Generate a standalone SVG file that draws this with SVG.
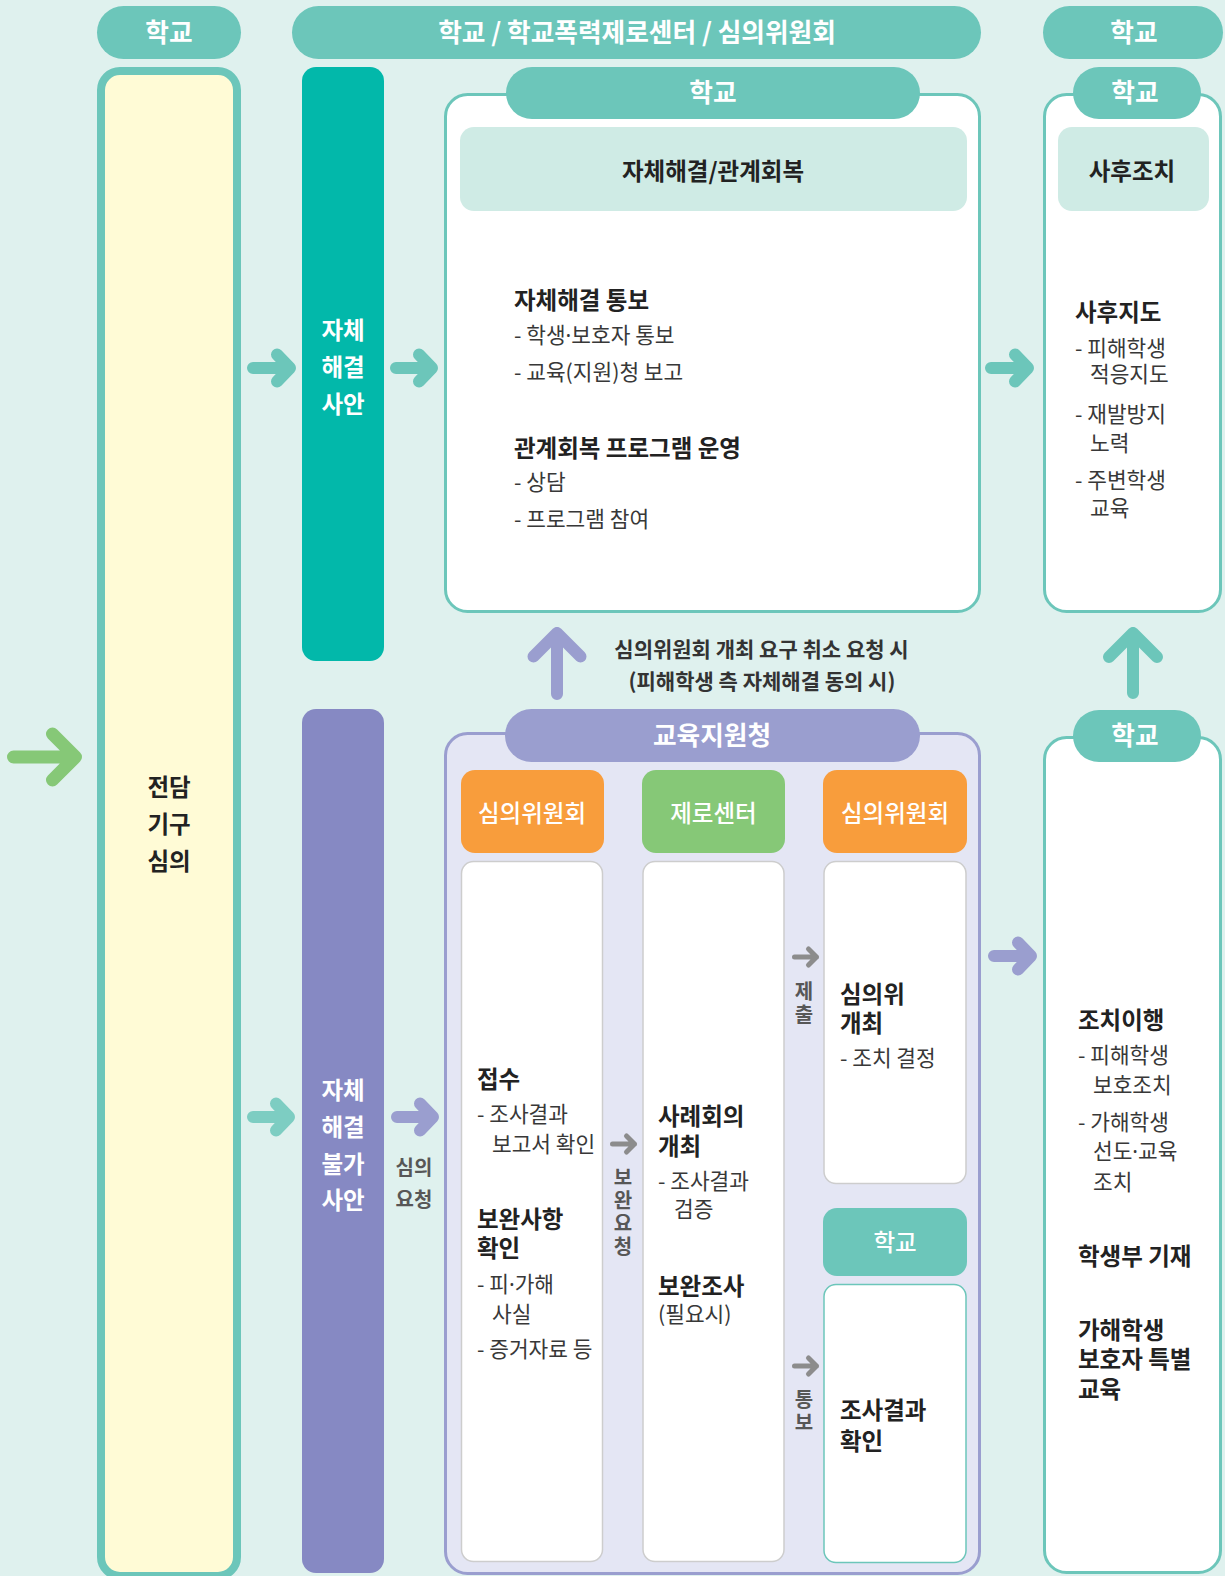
<svg xmlns="http://www.w3.org/2000/svg" width="1225" height="1576" viewBox="0 0 1225 1576">
<style>
text{font-family:'Noto Sans CJK KR','Noto Sans',sans-serif}
.pill{fill:#6cc6ba}
.pw{fill:#fff;font-size:25.7px;font-weight:700;text-anchor:middle}
.lw{fill:#fff;font-size:23.5px;font-weight:700;text-anchor:middle}
.ow{fill:#fff;font-size:23.5px;font-weight:500;text-anchor:middle}
.h{fill:#222;font-size:23.5px;font-weight:700}
.hc{fill:#222;font-size:23.5px;font-weight:700;text-anchor:middle}
.b{fill:#383838;font-size:21.4px;font-weight:400}
.g{fill:#575757;font-size:20px;font-weight:700;text-anchor:middle}
.v{fill:#575757;font-size:20px;font-weight:700;writing-mode:vertical-rl;letter-spacing:3px}
.m{fill:#333;font-size:21px;font-weight:700;text-anchor:middle}
.dot{font-family:'Noto Sans',sans-serif}
.col{fill:#fff;stroke:#cdcdcd;stroke-width:1.5}
.arr{fill:none;stroke-linecap:round;stroke-linejoin:round}
</style>
<rect width="1225" height="1576" fill="#dff1ee"/>

<g id="hdr-school-left">
<rect x="97" y="6" width="144" height="53" rx="26.5" class="pill"/>
<text x="169" y="42" class="pw">학교</text>
</g>
<g id="hdr-middle">
<rect x="292" y="6" width="689" height="53" rx="26.5" class="pill"/>
<text x="637" y="42" class="pw">학교 / 학교폭력제로센터 / 심의위원회</text>
</g>
<g id="hdr-school-right">
<rect x="1043" y="6" width="180" height="53" rx="26.5" class="pill"/>
<text x="1134" y="42" class="pw">학교</text>
</g>

<g id="node-jeondam">
<rect x="101" y="71" width="136" height="1505" rx="19" fill="#fffbd6" stroke="#6cc6ba" stroke-width="8"/>
<text class="hc"><tspan x="169" y="796">전담</tspan><tspan x="169" y="833">기구</tspan><tspan x="169" y="870">심의</tspan></text>
</g>

<g id="node-self-case">
<rect x="302" y="67" width="82" height="594" rx="14" fill="#02b8aa"/>
<text class="lw"><tspan x="343" y="339">자체</tspan><tspan x="343" y="376">해결</tspan><tspan x="343" y="412.5">사안</tspan></text>
</g>

<g id="node-nonself-case">
<rect x="302" y="709" width="82" height="864" rx="14" fill="#8689c3"/>
<text class="lw"><tspan x="343" y="1099">자체</tspan><tspan x="343" y="1136">해결</tspan><tspan x="343" y="1172.5">불가</tspan><tspan x="343" y="1209">사안</tspan></text>
</g>

<g id="node-self-resolve">
<rect x="445.5" y="94.5" width="534" height="517" rx="22" fill="#fff" stroke="#6cc6ba" stroke-width="3"/>
<rect x="506" y="67" width="414" height="52" rx="26" class="pill"/>
<text x="713" y="102" class="pw">학교</text>
<rect x="460" y="127" width="507" height="84" rx="14" fill="#cfebe5"/>
<text x="713" y="180" class="hc">자체해결/관계회복</text>
<text x="514" y="308.5" class="h">자체해결 통보</text>
<text x="514" y="342.5" class="b">- 학생<tspan class="dot">·</tspan>보호자 통보</text>
<text x="514" y="379.5" class="b">- 교육(지원)청 보고</text>
<text x="514" y="456.5" class="h">관계회복 프로그램 운영</text>
<text x="514" y="489.5" class="b">- 상담</text>
<text x="514" y="527" class="b">- 프로그램 참여</text>
</g>

<g id="node-aftercare">
<rect x="1044.5" y="94.5" width="176" height="517" rx="22" fill="#fff" stroke="#6cc6ba" stroke-width="3"/>
<rect x="1073" y="67" width="128" height="52" rx="26" class="pill"/>
<text x="1135" y="102" class="pw">학교</text>
<rect x="1058" y="127" width="151" height="84" rx="14" fill="#cfebe5"/>
<text x="1132" y="180" class="hc">사후조치</text>
<text x="1075" y="320.5" class="h">사후지도</text>
<text x="1075" y="355.5" class="b">- 피해학생</text>
<text x="1090" y="382" class="b">적응지도</text>
<text x="1075" y="421.5" class="b">- 재발방지</text>
<text x="1090" y="450.5" class="b">노력</text>
<text x="1075" y="487.5" class="b">- 주변학생</text>
<text x="1090" y="515.5" class="b">교육</text>
</g>

<g id="node-office">
<rect x="445.5" y="733.5" width="534" height="840" rx="22" fill="#e4e6f4" stroke="#9a9ecf" stroke-width="3"/>
<rect x="505" y="709" width="415" height="53" rx="26.5" fill="#9a9ecf"/>
<text x="712" y="745" class="pw">교육지원청</text>
</g>

<g id="node-committee-receive">
<rect x="461" y="770" width="143" height="83" rx="14" fill="#f89d3c"/>
<text x="532" y="821.5" class="ow">심의위원회</text>
<rect x="461.5" y="861.5" width="141" height="700" rx="12" class="col"/>
<text x="477" y="1088" class="h">접수</text>
<text x="477" y="1122" class="b">- 조사결과</text>
<text x="492" y="1151.5" class="b">보고서 확인</text>
<text x="477" y="1228" class="h">보완사항</text>
<text x="477" y="1256.5" class="h">확인</text>
<text x="477" y="1291.5" class="b">- 피<tspan class="dot">·</tspan>가해</text>
<text x="492" y="1321.5" class="b">사실</text>
<text x="477" y="1357" class="b">- 증거자료 등</text>
</g>

<g id="node-zero-center">
<rect x="642" y="770" width="143" height="83" rx="14" fill="#86c877"/>
<text x="713.5" y="821.5" class="ow">제로센터</text>
<rect x="643" y="861.5" width="141" height="700" rx="12" class="col"/>
<text x="658" y="1124.5" class="h">사례회의</text>
<text x="658" y="1154.5" class="h">개최</text>
<text x="658" y="1188.5" class="b">- 조사결과</text>
<text x="674" y="1217" class="b">검증</text>
<text x="658" y="1294.5" class="h">보완조사</text>
<text x="658" y="1322" class="b">(필요시)</text>
</g>

<g id="node-committee-meeting">
<rect x="823" y="770" width="144" height="83" rx="14" fill="#f89d3c"/>
<text x="895" y="821.5" class="ow">심의위원회</text>
<rect x="824" y="861.5" width="142" height="322" rx="12" class="col"/>
<text x="840" y="1002.5" class="h">심의위</text>
<text x="840" y="1031.5" class="h">개최</text>
<text x="840" y="1065.5" class="b">- 조치 결정</text>
</g>

<g id="node-school-confirm">
<rect x="823" y="1208" width="144" height="68" rx="14" fill="#6cc6ba"/>
<text x="895" y="1250.5" class="ow">학교</text>
<rect x="824" y="1284.5" width="142" height="278" rx="12" fill="#fff" stroke="#6cc6ba" stroke-width="1.5"/>
<text x="840" y="1418.5" class="h">조사결과</text>
<text x="840" y="1449.5" class="h">확인</text>
</g>

<g id="node-measures">
<rect x="1044.5" y="737.5" width="176" height="835" rx="22" fill="#fff" stroke="#6cc6ba" stroke-width="3"/>
<rect x="1073" y="710" width="128" height="52" rx="26" class="pill"/>
<text x="1135" y="745" class="pw">학교</text>
<text x="1078" y="1028.5" class="h">조치이행</text>
<text x="1078" y="1063" class="b">- 피해학생</text>
<text x="1093" y="1093" class="b">보호조치</text>
<text x="1078" y="1130" class="b">- 가해학생</text>
<text x="1093" y="1159" class="b">선도<tspan class="dot">·</tspan>교육</text>
<text x="1093" y="1190" class="b">조치</text>
<text x="1078" y="1264.5" class="h">학생부 기재</text>
<text x="1078" y="1338.5" class="h">가해학생</text>
<text x="1078" y="1368" class="h">보호자 특별</text>
<text x="1078" y="1397.5" class="h">교육</text>
</g>

<g id="connectors">
<path class="arr" stroke="#86c877" stroke-width="13" d="M13.5,757 H75.5 M52.5,734 L75.5,757 L52.5,780"/>
<path class="arr" stroke="#6cc6ba" stroke-width="12" d="M253,368 H290 M277,354.5 L290,368 L277,381.5"/>
<path class="arr" stroke="#6cc6ba" stroke-width="12" d="M396,368 H432 M419,354.5 L432,368 L419,381.5"/>
<path class="arr" stroke="#6cc6ba" stroke-width="12" d="M991,368 H1028 M1015,354.5 L1028,368 L1015,381.5"/>
<path class="arr" stroke="#7dcdc2" stroke-width="12" d="M253,1117 H289 M276,1103.5 L289,1117 L276,1130.5"/>
<path class="arr" stroke="#9a9ecf" stroke-width="12" d="M397,1117 H433 M420,1103.5 L433,1117 L420,1130.5"/>
<path class="arr" stroke="#9a9ecf" stroke-width="12" d="M994,956 H1031 M1018,942.5 L1031,956 L1018,969.5"/>
<path class="arr" stroke="#9a9ecf" stroke-width="12" d="M557,694 V633 M533.5,656.5 L557,633 L580.5,656.5"/>
<path class="arr" stroke="#6cc6ba" stroke-width="12" d="M1133,693 V633 M1109,657 L1133,633 L1157,657"/>
<path class="arr" stroke="#8c8c8c" stroke-width="5" d="M794.5,957 H816.5 M808.5,949 L816.5,957 L808.5,965"/>
<path class="arr" stroke="#8c8c8c" stroke-width="5" d="M612.5,1144 H634.5 M626.5,1136 L634.5,1144 L626.5,1152"/>
<path class="arr" stroke="#8c8c8c" stroke-width="5" d="M794.5,1366 H816.5 M808.5,1358 L816.5,1366 L808.5,1374"/>
<text class="m"><tspan x="761.5" y="657">심의위원회 개최 요구 취소 요청 시</tspan><tspan x="762" y="689">(피해학생 측 자체해결 동의 시)</tspan></text>
<text class="g"><tspan x="414" y="1175">심의</tspan><tspan x="414" y="1206.5">요청</tspan></text>
<text x="804" y="981" class="v">제출</text>
<text x="623" y="1167" class="v">보완요청</text>
<text x="804" y="1389" class="v">통보</text>
</g>
</svg>
